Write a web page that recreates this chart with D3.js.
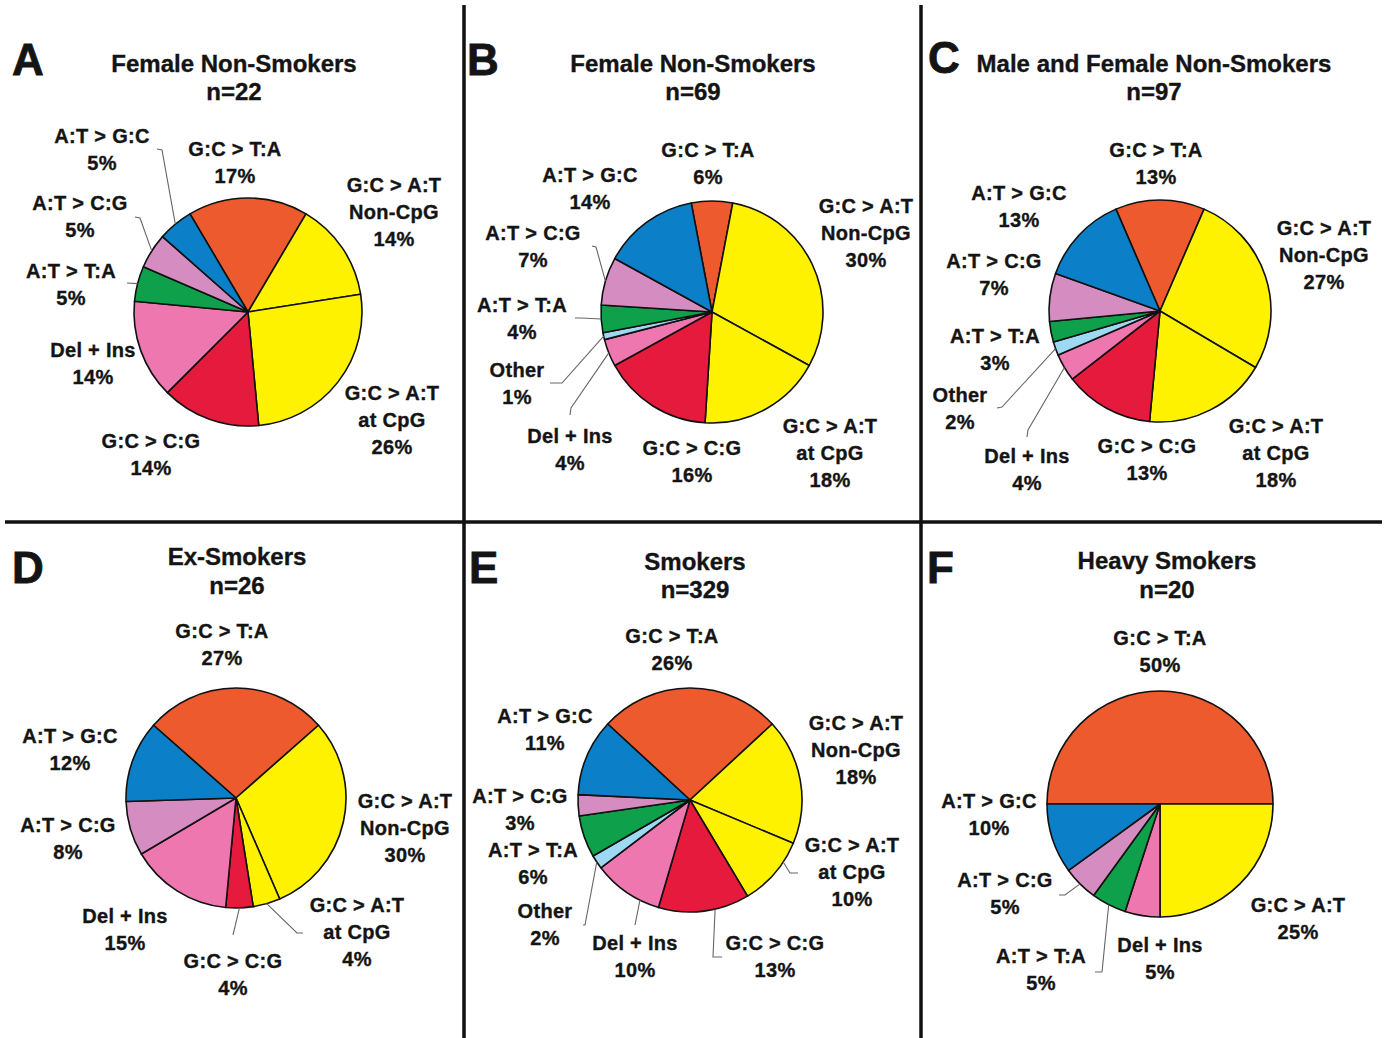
<!DOCTYPE html>
<html>
<head>
<meta charset="utf-8">
<script src="https://cdn.jsdelivr.net/npm/d3@7"></script>
<style>
    body { margin: 0; background: #fff; }
    text { font-family: "Liberation Sans", Arial, sans-serif; font-weight: bold; fill: #141414;
        stroke: #141414; stroke-width: 0.35px; }
</style>
</head>
<body>
<svg id="chart"></svg>
<script>
// mutation spectrum, one entry per slice type (clockwise order of the pies)
const mutationTypes = ["G:C > T:A", "G:C > A:T", "G:C > A:T Non-CpG", "G:C > A:T at CpG", "G:C > C:G",
    "Del + Ins", "Other", "A:T > T:A", "A:T > C:G", "A:T > G:C"];

// percentages per panel, same order as mutationTypes
const femaleNonSmokers22 = [17, 0, 14, 26, 14, 14, 0, 5, 5, 5];
const femaleNonSmokers69 = [6, 0, 30, 18, 16, 4, 1, 4, 7, 14];
const allNonSmokers97 = [13, 0, 27, 18, 13, 4, 2, 3, 7, 13];
const exSmokers26 = [27, 0, 30, 4, 4, 15, 0, 0, 8, 12];
const smokers329 = [26, 0, 18, 10, 13, 10, 2, 6, 3, 11];
const heavySmokers20 = [50, 25, 0, 0, 0, 5, 0, 5, 5, 10];

const panelLetters = ["A", "B", "C", "D", "E", "F"];
const panelTitles = ["Female Non-Smokers", "Female Non-Smokers", "Male and Female Non-Smokers",
    "Ex-Smokers", "Smokers", "Heavy Smokers"];
const panelN = [22, 69, 97, 26, 329, 20];
const panelValues = [femaleNonSmokers22, femaleNonSmokers69, allNonSmokers97, exSmokers26, smokers329, heavySmokers20];

const typeColors = ["#ec5a2e", "#fff200", "#fff200", "#fff200", "#e61a3c",
    "#ef77b0", "#9fd8f2", "#0ea04a", "#d58dc1", "#0b7fc7"];

// layout: pie centre/radius, title and letter anchors, label anchors (keyed by type index),
// leader lines (label side points, fraction along the slice where the line meets the pie)
const layout = [
    {cx: 248, cy: 312, r: 114, tx: 234, ty: 72, ny: 100, lx: 12, ly: 75,
        labels: {0: [235, 156], 2: [394, 192], 3: [392, 400], 4: [151, 448], 5: [93, 357],
            7: [71, 278], 8: [80, 210], 9: [102, 143]},
        leaders: [{t: 9, pts: [[157, 149], [162, 150]]}, {t: 8, pts: [[135, 217], [140, 218]]},
            {t: 7, pts: [[127, 283]]}]},
    {cx: 712, cy: 312, r: 111, tx: 693, ty: 72, ny: 100, lx: 467, ly: 75,
        labels: {0: [708, 157], 2: [866, 213], 3: [830, 433], 4: [692, 455], 5: [570, 443],
            6: [517, 377], 7: [522, 312], 8: [533, 240], 9: [590, 182]},
        leaders: [{t: 8, pts: [[592, 246], [596, 247]]}, {t: 7, pts: [[575, 318], [581, 318]]},
            {t: 6, pts: [[550, 383], [562, 383]]}, {t: 5, pts: [[570, 415], [571, 408]]}]},
    {cx: 1160, cy: 311, r: 111, tx: 1154, ty: 72, ny: 100, lx: 928, ly: 73,
        labels: {0: [1156, 157], 2: [1324, 235], 3: [1276, 433], 4: [1147, 453], 5: [1027, 463],
            6: [960, 402], 7: [995, 343], 8: [994, 268], 9: [1019, 200]},
        leaders: [{t: 6, pts: [[997, 408], [1002, 407]]}, {t: 5, pts: [[1027, 437], [1028, 430]]}]},
    {cx: 236, cy: 798, r: 110, tx: 237, ty: 565, ny: 594, lx: 12, ly: 583,
        labels: {0: [222, 638], 2: [405, 808], 3: [357, 912], 4: [233, 968], 5: [125, 923],
            8: [68, 832], 9: [70, 743]},
        leaders: [{t: 4, pts: [[233, 935]]}, {t: 3, pts: [[303, 933], [297, 933]]}]},
    {cx: 690, cy: 800, r: 112, tx: 695, ty: 570, ny: 598, lx: 469, ly: 583,
        labels: {0: [672, 643], 2: [856, 730], 3: [852, 852], 4: [775, 950], 5: [635, 950],
            6: [545, 918], 7: [533, 857], 8: [520, 803], 9: [545, 723]},
        leaders: [{t: 6, pts: [[583, 925], [585, 925]]}, {t: 5, pts: [[635, 925]], f: 0.28},
            {t: 4, pts: [[722, 957], [713, 957]], f: 0.38}, {t: 3, pts: [[798, 873], [790, 873]], f: 0.3}]},
    {cx: 1160, cy: 804, r: 113, tx: 1167, ty: 569, ny: 598, lx: 927, ly: 583,
        labels: {0: [1160, 645], 1: [1298, 912], 5: [1160, 952], 7: [1041, 963], 8: [1005, 887],
            9: [989, 808]},
        leaders: [{t: 8, pts: [[1059, 895], [1065, 895]]}, {t: 7, pts: [[1095, 972], [1102, 972]]}]}
];

const width = 1388, height = 1038;
const svg = d3.select("#chart").attr("width", width).attr("height", height);
svg.append("rect").attr("width", width).attr("height", height).attr("fill", "#fff");

const color = d3.scaleOrdinal().domain(d3.range(mutationTypes.length)).range(typeColors);
const lineOf = name => name.replace(" Non-CpG", "|Non-CpG").replace(" at CpG", "|at CpG").split("|");

panelValues.forEach(function (values, p) {
    const L = layout[p];
    const g = svg.append("g");

    g.append("text").attr("x", L.lx).attr("y", L.ly)
        .style("font-size", "44px").style("stroke-width", "0.8px").text(panelLetters[p]);
    g.append("text").attr("x", L.tx).attr("y", L.ty).attr("text-anchor", "middle")
        .style("font-size", "24px").text(panelTitles[p]);
    g.append("text").attr("x", L.tx).attr("y", L.ny).attr("text-anchor", "middle")
        .style("font-size", "24px").text("n=" + panelN[p]);

    // first slice (G:C > T:A) is centred on twelve o'clock
    const total = d3.sum(values);
    const a0 = -Math.PI * values[0] / total;
    const slices = values.map((v, i) => ({type: i, value: v})).filter(d => d.value > 0);
    const pie = d3.pie().sort(null).value(d => d.value)
        .startAngle(a0).endAngle(a0 + 2 * Math.PI);
    const arcs = pie(slices);
    const arc = d3.arc().innerRadius(0).outerRadius(L.r);

    const pg = g.append("g").attr("transform", `translate(${L.cx},${L.cy})`);
    pg.selectAll("path").data(arcs).enter().append("path")
        .attr("d", arc)
        .attr("fill", d => color(d.data.type))
        .attr("stroke", "#111").attr("stroke-width", 1.6).attr("stroke-linejoin", "round");

    // leader lines
    L.leaders.forEach(function (ld) {
        const d = arcs.find(a => a.data.type === ld.t);
        const f = ld.f === undefined ? 0.5 : ld.f;
        const end = d3.pointRadial(d.startAngle + f * (d.endAngle - d.startAngle), L.r);
        const pts = ld.pts.concat([[L.cx + end[0], L.cy + end[1]]]);
        g.append("path").attr("d", d3.line()(pts))
            .attr("fill", "none").attr("stroke", "#666").attr("stroke-width", 1.1);
    });

    // labels
    slices.forEach(function (s) {
        const pos = L.labels[s.type];
        if (!pos) return;
        const lines = lineOf(mutationTypes[s.type]).concat([s.value + "%"]);
        const t = g.append("text").attr("x", pos[0]).attr("y", pos[1])
            .attr("text-anchor", "middle").style("font-size", "20px")
            .style("letter-spacing", "0.3px");
        lines.forEach(function (ln, k) {
            t.append("tspan").attr("x", pos[0]).attr("dy", k === 0 ? 0 : 27).text(ln);
        });
    });
});

// panel dividers
const dividers = [[464, 5, 464, 1038], [921, 5, 921, 1038], [5, 522, 1382, 522]];
svg.selectAll("line.div").data(dividers).enter().append("line")
    .attr("class", "div")
    .attr("x1", d => d[0]).attr("y1", d => d[1]).attr("x2", d => d[2]).attr("y2", d => d[3])
    .attr("stroke", "#111").attr("stroke-width", 3.5);
</script>
</body>
</html>
